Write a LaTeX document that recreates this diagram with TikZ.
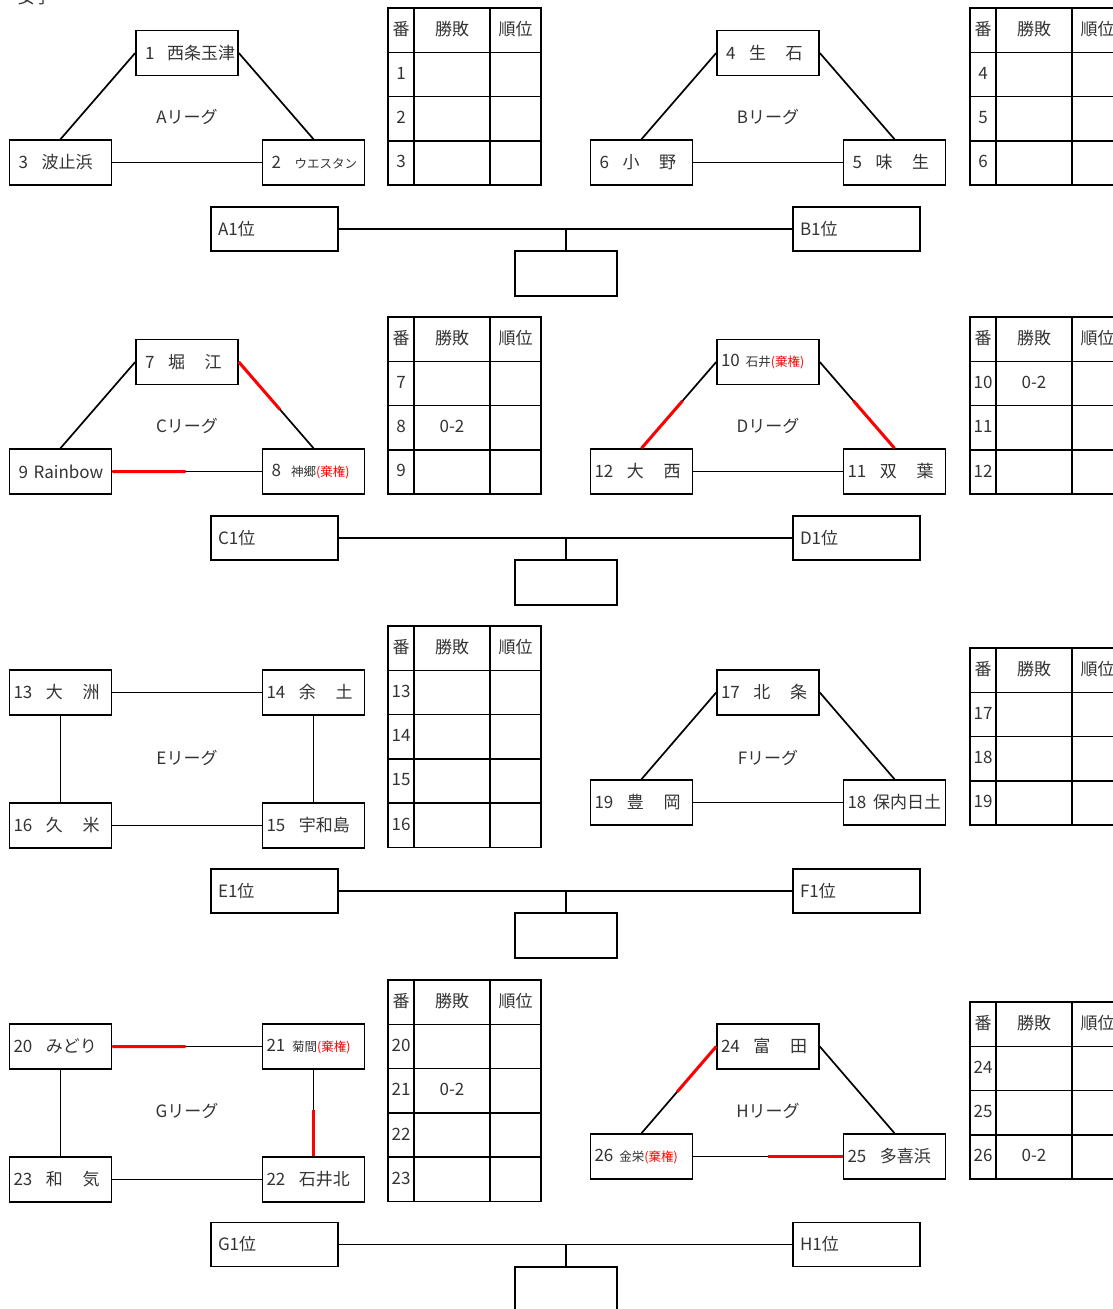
\documentclass[tikz,border=0pt]{standalone}
\usepackage{fontspec}
\setmainfont{Noto Sans CJK JP}
\usetikzlibrary{calc}
\definecolor{txtgray}{HTML}{333333}
\newcommand\smtext[1]{{\fontsize{12.5}{15}\selectfont #1}}
\newcommand\kikenmark{\textcolor{red}{(棄権)}}
\newcommand\numgap{\hspace{0.8em}}
\newcommand\namegap{\hspace{1.15em}}

\begin{document}
\begin{tikzpicture}[x=1pt, y=-1pt,
    every node/.style={font=\fontsize{17}{20}\selectfont, text=txtgray},
    team/.style={draw=black, line width=1.6pt, minimum height=45pt, text width=94pt, inner xsep=4pt, inner ysep=0pt, align=left},
    final/.style={draw=black, line width=1.6pt, minimum height=44pt, text width=113pt, inner xsep=7pt, inner ysep=0pt, align=left},
    winbox/.style={draw=black, line width=1.6pt, minimum width=102pt, minimum height=45pt, inner sep=0pt},
    match/.style={line width=1.7pt},
    bline/.style={line width=1.4pt},
    forfeit/.style={red, line width=3pt},
    tbl/.style={line width=1.6pt}]
\useasboundingbox (0,0) rectangle (1112,1309);

\node[anchor=base west] (title) at (14,4) {女子};

% A / B
\node[team] (t1) at (187,53) {\mbox{\hspace{5pt}1\hspace{0.75em}西条玉津}};
\node[team] (t3) at (60.5,162.5) {\hspace{5pt}3\numgap 波止浜};
\node[team] (t2) at (313.5,162.5) {\hspace{5pt}2\numgap\smtext{ウエスタン}};
\node (lgA) at (187,117) {Aリーグ};
\draw[match] (t1.west) -- (t3.north);
\draw[match] (t1.east) -- (t2.north);
\draw[bline] (t3.east) -- (t2.west);

\node[team] (t4) at (768,53) {\hspace{5pt}4\numgap 生\namegap 石};
\node[team] (t6) at (641.5,162.5) {\hspace{5pt}6\numgap 小\namegap 野};
\node[team] (t5) at (894.5,162.5) {\hspace{5pt}5\numgap 味\namegap 生};
\node (lgB) at (768,117) {Bリーグ};
\draw[match] (t4.west) -- (t6.north);
\draw[match] (t4.east) -- (t5.north);
\draw[bline] (t6.east) -- (t5.west);

\node[final] (a1) at (274.5,229) {A1位};
\node[final] (b1) at (856.5,229) {B1位};
\node[winbox] (ab) at (566,273.5) {};
\draw[bline] (a1) -- (b1);
\draw[bline] (ab.north) -- (ab.north |- a1);

% C / D
\node[team] (t7) at (187,362) {\hspace{5pt}7\numgap 堀\namegap 江};
\node[team] (t9) at (60.5,471.5) {\hspace{5pt}9 Rainbow};
\node[team] (t8) at (313.5,471.5) {\hspace{5pt}8\hspace{0.6em}\smtext{神郷\kikenmark}};
\node (lgC) at (187,426) {Cリーグ};
\draw[match] (t7.west) -- (t9.north);
\draw[match] (t7.east) -- (t8.north);
\draw[bline] (t9.east) -- (t8.west);
\draw[forfeit] (t7.east) -- ($(t7.east)!0.55!(t8.north)$);
\draw[forfeit] (t9.east) -- ($(t9.east)!0.49!(t8.west)$);

\node[team] (t10) at (768,362) {10\hspace{0.35em}\smtext{石井\kikenmark}};
\node[team] (t12) at (641.5,471.5) {12\numgap 大\namegap 西};
\node[team] (t11) at (894.5,471.5) {11\numgap 双\namegap 葉};
\node (lgD) at (768,426) {Dリーグ};
\draw[match] (t10.west) -- (t12.north);
\draw[match] (t10.east) -- (t11.north);
\draw[bline] (t12.east) -- (t11.west);
\draw[forfeit] (t12.north) -- ($(t12.north)!0.55!(t10.west)$);
\draw[forfeit] (t11.north) -- ($(t11.north)!0.55!(t10.east)$);

\node[final] (c1) at (274.5,538) {C1位};
\node[final] (d1) at (856.5,538) {D1位};
\node[winbox] (cd) at (566,582.5) {};
\draw[bline] (c1) -- (d1);
\draw[bline] (cd.north) -- (cd.north |- c1);

% E / F
\node[team] (t13) at (60.5,692.5) {13\numgap 大\namegap 洲};
\node[team] (t14) at (313.5,692.5) {14\numgap 余\namegap 土};
\node[team] (t16) at (60.5,825.5) {16\numgap 久\namegap 米};
\node[team] (t15) at (313.5,825.5) {15\numgap 宇和島};
\node (lgE) at (187,758) {Eリーグ};
\draw[bline] (t13) -- (t14);
\draw[bline] (t13) -- (t16);
\draw[bline] (t14) -- (t15);
\draw[bline] (t16) -- (t15);

\node[team] (t17) at (768,692.5) {17\numgap 北\namegap 条};
\node[team] (t19) at (641.5,802.5) {19\numgap 豊\namegap 岡};
\node[team] (t18) at (894.5,802.5) {18\hspace{0.4em}保内日土};
\node (lgF) at (768,758) {Fリーグ};
\draw[match] (t17.west) -- (t19.north);
\draw[match] (t17.east) -- (t18.north);
\draw[bline] (t19.east) -- (t18.west);

\node[final] (e1) at (274.5,891) {E1位};
\node[final] (f1) at (856.5,891) {F1位};
\node[winbox] (ef) at (566,935.5) {};
\draw[bline] (e1) -- (f1);
\draw[bline] (ef.north) -- (ef.north |- e1);

% G / H
\node[team] (t20) at (60.5,1046.5) {20\numgap みどり};
\node[team] (t21) at (313.5,1046.5) {21\hspace{0.4em}\smtext{菊間\kikenmark}};
\node[team] (t23) at (60.5,1179.5) {23\numgap 和\namegap 気};
\node[team] (t22) at (313.5,1179.5) {22\numgap 石井北};
\node (lgG) at (187,1111) {Gリーグ};
\draw[bline] (t20) -- (t21);
\draw[bline] (t20) -- (t23);
\draw[bline] (t21) -- (t22);
\draw[bline] (t23) -- (t22);
\draw[forfeit] (t20.east) -- ($(t20.east)!0.49!(t21.west)$);
\draw[forfeit] (t22.north) -- ($(t22.north)!0.53!(t21.south)$);

\node[team] (t24) at (768,1046.5) {24\numgap 富\namegap 田};
\node[team] (t26) at (641.5,1156.5) {26\hspace{0.35em}\smtext{金栄\kikenmark}};
\node[team] (t25) at (894.5,1156.5) {25\numgap 多喜浜};
\node (lgH) at (768,1111) {Hリーグ};
\draw[match] (t24.west) -- (t26.north);
\draw[match] (t24.east) -- (t25.north);
\draw[bline] (t26.east) -- (t25.west);
\draw[forfeit] (t24.west) -- ($(t24.west)!0.52!(t26.north)$);
\draw[forfeit] (t25.west) -- ($(t25.west)!0.5!(t26.east)$);

\node[final] (g1) at (274.5,1244.5) {G1位};
\node[final] (h1) at (856.5,1244.5) {H1位};
\node[winbox] (gh) at (566,1289.5) {};
\draw[bline] (g1) -- (h1);
\draw[bline] (gh.north) -- (gh.north |- g1);

% result tables
\foreach \tx/\ty/\nums [count=\k] in {388/8/{1,2,3}, 970/8/{4,5,6}, 388/317/{7,8,9}, 970/317/{10,11,12}, 388/626/{13,14,15,16}, 970/648/{17,18,19}, 388/980/{20,21,22,23}, 970/1002/{24,25,26}} {
  \draw[tbl] (\tx,\ty) rectangle ++(26,44.3);
  \draw[tbl] (\tx+26,\ty) rectangle ++(76,44.3);
  \draw[tbl] (\tx+102,\ty) rectangle ++(51,44.3);
  \node (ban\k) at (\tx+13,\ty+21) {番};
  \node (wlh\k) at (\tx+64,\ty+21) {勝敗};
  \node (rkh\k) at (\tx+127.5,\ty+21) {順位};
  \foreach \n [count=\i] in \nums {
    \draw[tbl] (\tx,\ty+\i*44.3) rectangle ++(26,44.3);
    \draw[tbl] (\tx+26,\ty+\i*44.3) rectangle ++(76,44.3);
    \draw[tbl] (\tx+102,\ty+\i*44.3) rectangle ++(51,44.3);
    \node[inner sep=0pt] (no\n) at (\tx+13,\ty+\i*44.3+21) {\n};
    \coordinate (wl\n) at (\tx+64,\ty+\i*44.3+21);
  }
}
\node (r8) at (wl8) {0-2};
\node (r10) at (wl10) {0-2};
\node (r21) at (wl21) {0-2};
\node (r26) at (wl26) {0-2};
\end{tikzpicture}
\end{document}
